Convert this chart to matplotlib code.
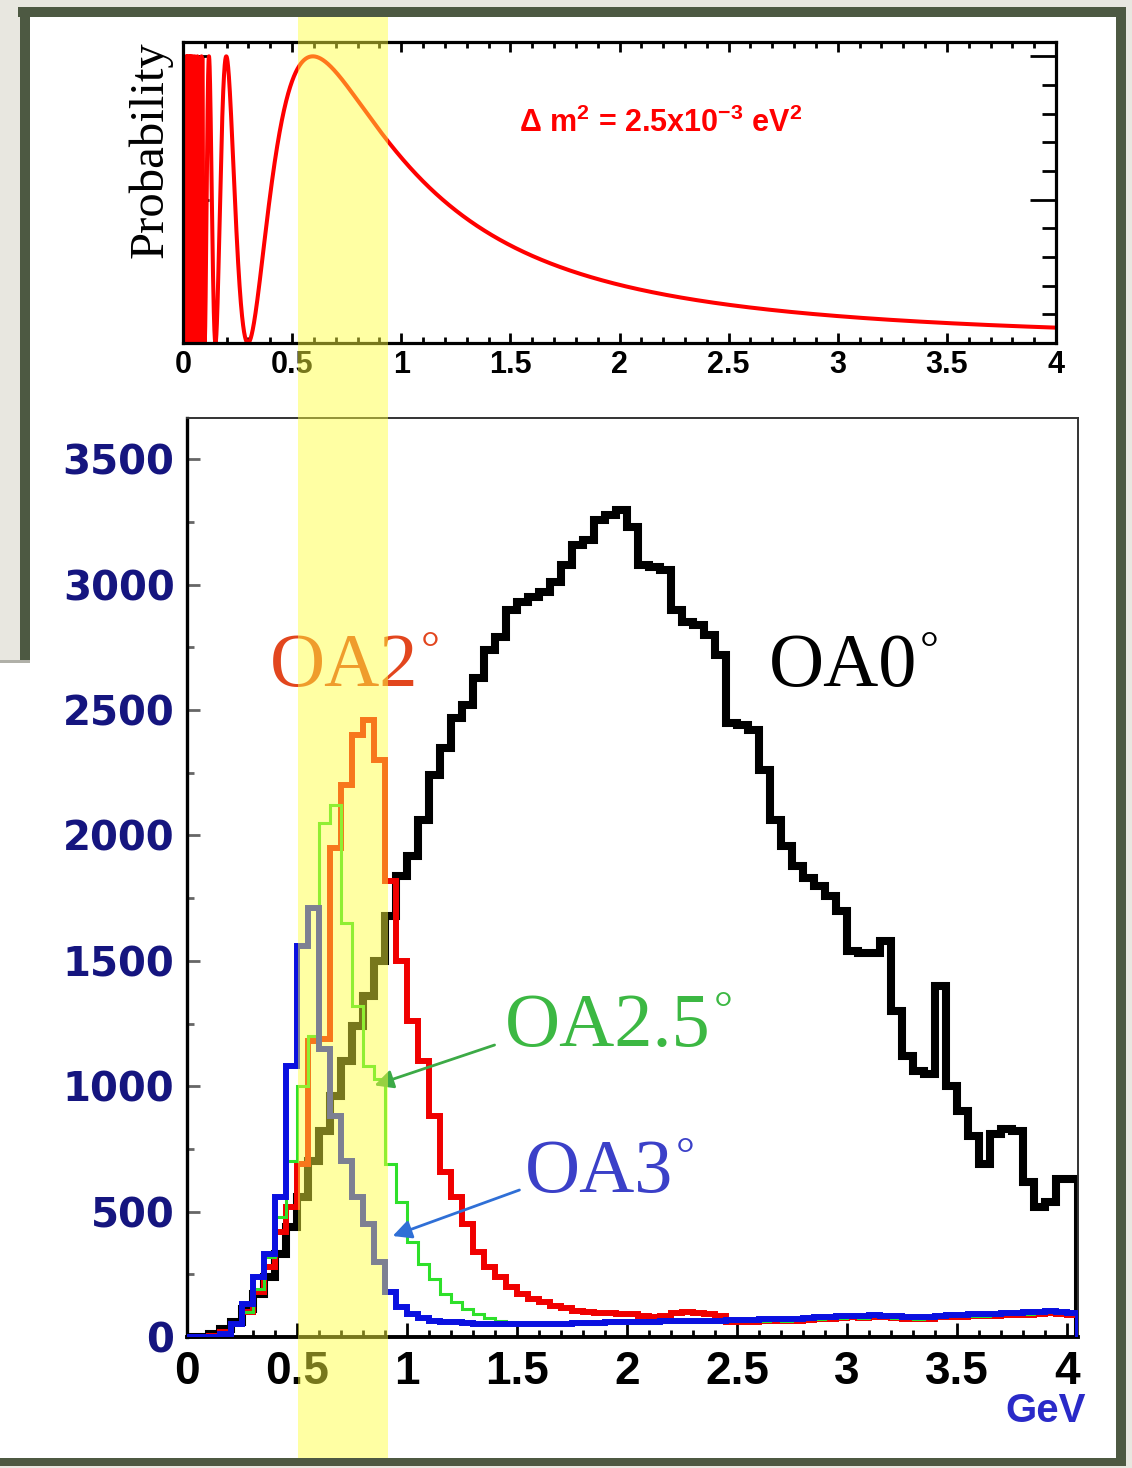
import numpy as np
import matplotlib.pyplot as plt
from matplotlib.patches import Rectangle
from matplotlib.ticker import MultipleLocator

# oscillation parameters for the upper panel
dm2 = 2.5e-3        # eV^2
baseline_km = 295.0
e_fast = 0.097      # below this the oscillation is drawn as a solid band

# histogram binning (GeV)
bin_width = 0.05
n_bins = 81

# event counts per bin, 0 - 4.05 GeV
oa0 = [0, 0, 10, 30, 60, 110, 170, 240, 330, 440,
       560, 700, 820, 960, 1100, 1240, 1360, 1500, 1680, 1840,
       1920, 2060, 2240, 2350, 2470, 2520, 2630, 2740, 2790, 2900,
       2930, 2950, 2970, 3010, 3080, 3160, 3180, 3260, 3280, 3300,
       3230, 3080, 3070, 3060, 2900, 2850, 2840, 2800, 2720, 2450,
       2440, 2420, 2260, 2060, 1960, 1880, 1830, 1800, 1760, 1700,
       1540, 1530, 1530, 1580, 1300, 1120, 1060, 1050, 1400, 1000,
       900, 800, 690, 810, 830, 820, 620, 520, 540, 630, 630]

oa2 = [0, 0, 5, 20, 50, 100, 180, 280, 420, 520,
       690, 1180, 1190, 1950, 2200, 2400, 2460, 2300, 1820, 1500,
       1260, 1100, 880, 660, 560, 450, 340, 280, 240, 200,
       170, 150, 140, 125, 115, 105, 100, 95, 95, 90,
       90, 85, 80, 85, 95, 100, 95, 90, 85, 60,
       60, 60, 62, 64, 62, 64, 66, 70, 72, 74,
       78, 75, 80, 78, 75, 72, 70, 72, 78, 80,
       80, 82, 82, 84, 86, 86, 88, 90, 95, 92, 88]

oa25 = [0, 0, 5, 20, 50, 100, 190, 320, 480, 700,
        1000, 1200, 2050, 2120, 1650, 1320, 1080, 1030, 690, 540,
        380, 290, 230, 170, 140, 110, 90, 75, 65, 58,
        52, 50, 50, 50, 50, 52, 52, 52, 55, 55,
        55, 57, 57, 58, 58, 58, 60, 60, 60, 63,
        63, 63, 65, 67, 65, 67, 70, 73, 75, 77,
        80, 77, 83, 80, 77, 75, 73, 75, 80, 83,
        83, 85, 85, 87, 90, 90, 93, 95, 100, 95, 90]

oa3 = [0, 0, 0, 10, 50, 130, 240, 330, 560, 1080,
       1560, 1710, 1150, 880, 700, 560, 450, 300, 180, 120,
       90, 75, 65, 60, 58, 55, 52, 50, 50, 50,
       50, 50, 50, 52, 52, 55, 55, 55, 58, 58,
       58, 60, 60, 62, 62, 62, 65, 65, 65, 68,
       68, 68, 70, 72, 70, 72, 75, 78, 80, 82,
       85, 82, 88, 85, 82, 80, 78, 80, 85, 88,
       88, 90, 90, 92, 95, 95, 98, 100, 105, 100, 95]

x_ticks = [0, 0.5, 1, 1.5, 2, 2.5, 3, 3.5, 4]
x_labels = ['0', '0.5', '1', '1.5', '2', '2.5', '3', '3.5', '4']
y_ticks = [0, 500, 1000, 1500, 2000, 2500, 3000, 3500]
y_labels = ['0', '500', '1000', '1500', '2000', '2500', '3000', '3500']

W, H = 1132, 1468
fig = plt.figure(figsize=(W / 100, H / 100), dpi=100, facecolor='#e8e7e0')
plt.rcParams['mathtext.fontset'] = 'custom'
plt.rcParams['mathtext.rm'] = 'Liberation Sans:bold'
plt.rcParams['mathtext.bf'] = 'Liberation Sans:bold'


def px_rect(x0, y0, x1, y1, color, z, alpha=1.0):
    # rectangle given in pixel coordinates (origin top-left)
    r = Rectangle((x0 / W, 1 - y1 / H), (x1 - x0) / W, (y1 - y0) / H,
                  transform=fig.transFigure, facecolor=color, edgecolor='none',
                  lw=0, zorder=z, alpha=alpha)
    fig.add_artist(r)


# paper and frame
frame = '#4d5942'
px_rect(28, 16, 1117, 1459, 'white', -5)
px_rect(0, 660, 30, 1459, 'white', -5)
px_rect(18, 7, 1126, 17, frame, -4)
px_rect(20, 7, 30, 662, frame, -4)
px_rect(1116, 12, 1126, 1466, frame, -4)
px_rect(0, 1458, 1126, 1466, frame, -4)
px_rect(0, 660, 30, 663, '#b0b0a8', -4)

# ---- upper panel: oscillation probability
ax1 = fig.add_axes([183 / W, 1 - 343 / H, 873 / W, 301 / H])
E = np.linspace(0.001, 4.0, 40000)
prob = np.sin(1.267 * dm2 * baseline_km / E) ** 2
ax1.plot(E, prob, color='#ff0000', lw=2.9)
ax1.fill_between(E, 0, 1, where=E < e_fast, color='#ff0000', lw=0)
ax1.set_xlim(0, 4)
ax1.set_ylim(0, 1.05)
ax1.set_xticks(x_ticks, x_labels, fontsize=22, fontweight='bold',
               family=['Liberation Sans', 'DejaVu Sans'])
ax1.xaxis.set_minor_locator(MultipleLocator(0.1))
ax1.yaxis.set_major_locator(MultipleLocator(0.5))
ax1.yaxis.set_minor_locator(MultipleLocator(0.1))
ax1.tick_params(which='both', direction='in', top=True, right=True, width=2, color='black')
ax1.tick_params(axis='x', which='major', length=7, pad=5)
ax1.tick_params(axis='x', which='minor', length=4)
ax1.tick_params(axis='y', which='major', length=19, labelleft=False)
ax1.tick_params(axis='y', which='minor', length=10)
for s in ax1.spines.values():
    s.set_linewidth(2.3)
ax1.text(1.54, 0.765, r'$\Delta$ m$^{2}$ = 2.5x10$^{-3}$ eV$^{2}$', color='#ff0000',
         fontsize=22, fontweight='bold', family='Liberation Sans', va='center', ha='left')
fig.text(150 / W, 1 - 150 / H, 'Probability', rotation=90, ha='center', va='center',
         fontsize=35, family='Liberation Serif', color='black')

# ---- lower panel: neutrino energy spectra
ax2 = fig.add_axes([187 / W, 1 - 1337 / H, 891 / W, 919 / H])
edges = np.linspace(0, bin_width * n_bins, n_bins + 1)
ax2.stairs(oa0, edges, color='black', lw=5.8, zorder=2)
ax2.stairs(oa2, edges, color='#f00000', lw=4.3, zorder=3)
ax2.stairs(oa25, edges, color='#2ee02a', lw=2.2, zorder=4)
ax2.stairs(oa3, edges, color='#0a10e0', lw=4.3, zorder=5)
ax2.set_xlim(0, bin_width * n_bins)
ax2.set_ylim(0, 3665)

ax2.set_xticks(x_ticks, x_labels, fontsize=33, fontweight='bold',
               family=['Liberation Sans', 'DejaVu Sans'])
ax2.set_yticks(y_ticks, y_labels, fontsize=29, fontweight='bold',
               family='DejaVu Sans', color='#15157f')
ax2.xaxis.set_minor_locator(MultipleLocator(0.1))
ax2.yaxis.set_minor_locator(MultipleLocator(250))
ax2.tick_params(which='both', direction='in', width=2)
ax2.tick_params(axis='x', which='major', length=10, pad=9, color='black')
ax2.tick_params(axis='x', which='minor', length=5, color='black')
ax2.tick_params(axis='y', which='major', length=9, pad=9, color='#666666')
ax2.tick_params(axis='y', which='minor', length=5, color='#666666')
ax2.spines['left'].set_linewidth(2.4)
ax2.spines['bottom'].set_linewidth(2.8)
ax2.spines['top'].set_linewidth(1.4)
ax2.spines['right'].set_linewidth(1.4)
ax2.spines['top'].set_color('#333333')
ax2.spines['right'].set_color('#333333')


def oa_label(x, y, text, color):
    # angle label with a small raised degree ring
    t = ax2.text(x, y, text, fontsize=55, family='Liberation Serif', color=color, va='baseline')
    ax2.annotate('°', xy=(1.0, 1.0), xycoords=t, xytext=(2, 2), textcoords='offset points',
                 ha='left', va='top', fontsize=34, family='Liberation Serif', color=color)


oa_label(2.645, 2595, 'OA0', 'black')
oa_label(0.377, 2595, 'OA2', '#e2461e')
oa_label(1.445, 1160, 'OA2.5', '#3cb843')
oa_label(1.536, 578, 'OA3', '#3b40c8')
ax2.annotate('', xy=(0.84, 1000), xytext=(1.41, 1168),
             arrowprops=dict(arrowstyle='-|>', color='#3caa46', lw=2, mutation_scale=28), zorder=6)
ax2.annotate('', xy=(0.923, 399), xytext=(1.523, 590),
             arrowprops=dict(arrowstyle='-|>', color='#2f6fd6', lw=2, mutation_scale=28), zorder=6)
fig.text(1086 / W, 1 - 1422 / H, 'GeV', ha='right', va='baseline', fontsize=29,
         fontweight='bold', family='Liberation Sans', color='#2a2ac8')

# highlighted energy window across both panels
px_rect(298, 17, 388, 1458, '#ffff3c', 10, alpha=0.47)

fig.savefig('out.png', dpi=100, facecolor=fig.get_facecolor())
